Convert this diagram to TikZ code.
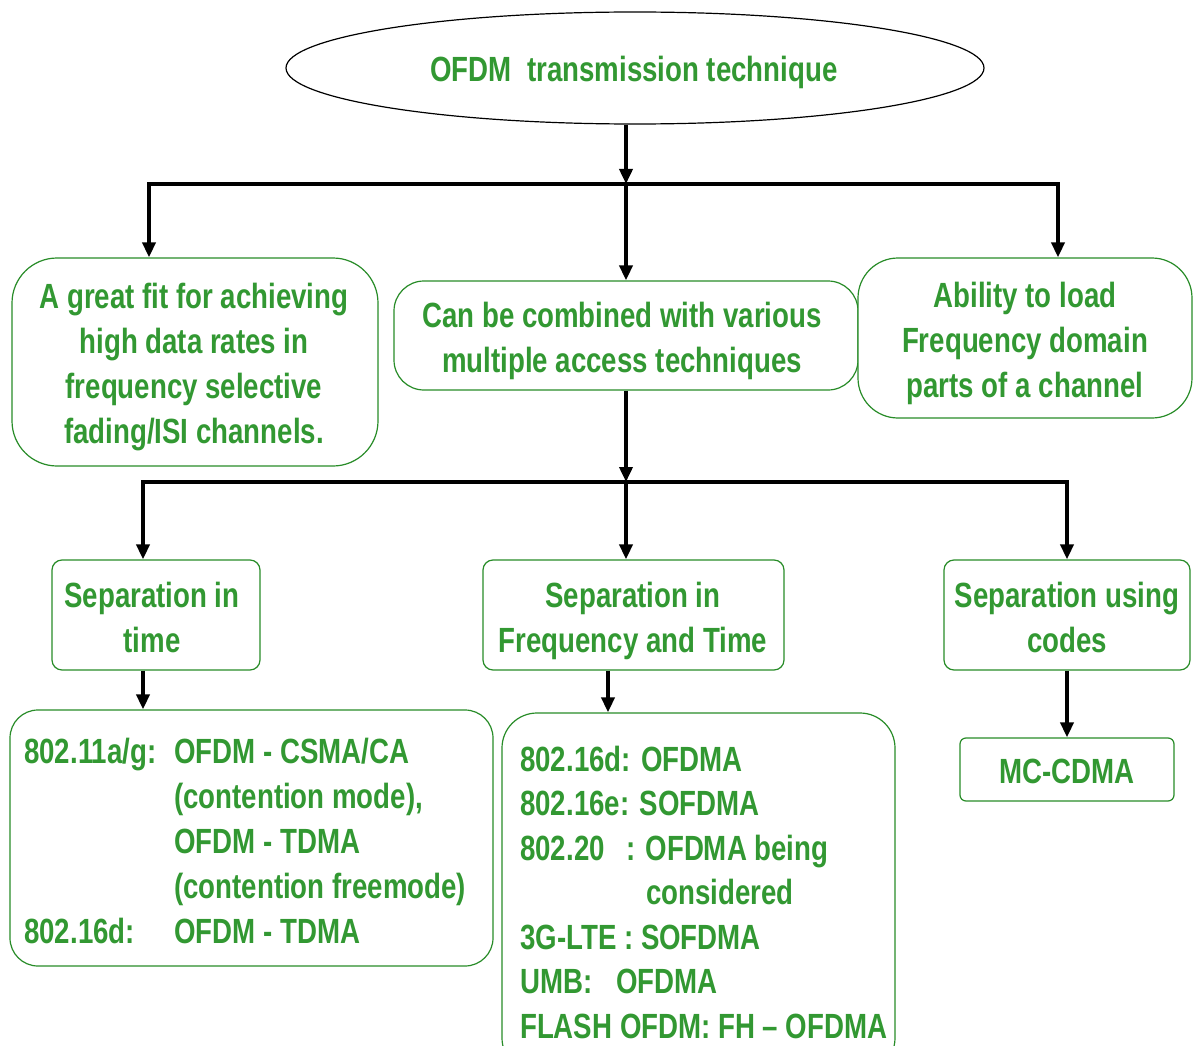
\documentclass[tikz,border=0pt]{standalone}
\usepackage{fontspec}
\usetikzlibrary{shapes.geometric,arrows.meta}
\newfontfamily\diagfont{Liberation Sans Bold}[FakeStretch=0.79]
\definecolor{leafgreen}{RGB}{50,152,50}
\definecolor{edgegreen}{RGB}{40,140,40}
\tikzset{
  txt/.style={font=\diagfont\fontsize{35}{45}\selectfont, text=leafgreen, inner sep=0pt},
  ctxt/.style={txt, anchor=base},
  box/.style={draw=edgegreen, line width=1.2pt, inner sep=0pt, fill=white},
  arr/.style={line width=3.6pt, -{Triangle[length=15pt,width=13pt]}},
  bar/.style={line width=4.4pt},
}
\newcommand{\lines}[1]{\begin{tabular}[t]{@{}c@{}}#1\end{tabular}}
\begin{document}
\begin{tikzpicture}[x=1pt,y=-1pt]
\useasboundingbox (0,0) rectangle (1200,1046);
\fill[white] (0,0) rectangle (1200,1046);

% root
\node[draw=black, line width=1.2pt, ellipse, minimum width=698pt, minimum height=112pt, inner sep=0pt]
  (root) at (635,68) {};
\node[ctxt] (roottext) at (634,82) {OFDM\ \ transmission technique};

% first level
\node[box, rounded corners=45pt, minimum width=366pt, minimum height=208pt] (fit) at (195,362) {};
\node[ctxt] (fittext) at (194,308)
  {\lines{A great fit for achieving\\high data rates in\\frequency selective\\fading/ISI channels.}};
\node[box, rounded corners=30pt, minimum width=464pt, minimum height=109pt] (comb) at (626,335.5) {};
\node[ctxt] (combtext) at (622,327)
  {\lines{Can be combined with various\\multiple access techniques}};
\node[box, rounded corners=40pt, minimum width=334pt, minimum height=160pt] (load) at (1025,338) {};
\node[ctxt] (loadtext) at (1025,307)
  {\lines{Ability to load\\Frequency domain\\parts of a channel}};

% second level
\node[box, rounded corners=10pt, minimum width=208pt, minimum height=110pt] (stime) at (156,615) {};
\node[ctxt] (stimetext) at (152,607) {\lines{Separation in\\time}};
\node[box, rounded corners=10pt, minimum width=301pt, minimum height=110pt] (sfreq) at (633.5,615) {};
\node[ctxt] (sfreqtext) at (633,607) {\lines{Separation in\\Frequency and Time}};
\node[box, rounded corners=10pt, minimum width=246pt, minimum height=110pt] (scode) at (1067,615) {};
\node[ctxt] (scodetext) at (1067,607) {\lines{Separation using\\codes}};

% third level
\node[box, rounded corners=28pt, minimum width=483pt, minimum height=256pt] (tdma) at (251.5,838) {};
\node[txt, anchor=base west] (tdmatext) at (24,763) {%
  \begin{tabular}[t]{@{}p{150pt}@{}l@{}}
  802.11a/g: & OFDM - CSMA/CA\\
             & (contention mode),\\
             & OFDM - TDMA\\
             & (contention freemode)\\
  802.16d:   & OFDM - TDMA
  \end{tabular}};

\node[box, rounded corners=35pt, minimum width=393pt, minimum height=360pt] (ofdma) at (698.5,893) {};
\node[txt, anchor=base west] (ofdmatext) at (520,771) {%
  \fontsize{35}{44.5}\selectfont
  \begin{tabular}[t]{@{}l@{}}
  802.16d: OFDMA\\
  802.16e: SOFDMA\\
  \makebox[106pt][l]{802.20}: OFDMA being\\
  \hspace*{126pt}considered\\
  3G-LTE : SOFDMA\\
  UMB:\hspace{24pt}OFDMA\\
  FLASH OFDM: FH – OFDMA
  \end{tabular}};

\node[box, rounded corners=6pt, minimum width=214pt, minimum height=63pt] (mccdma) at (1067,769.5) {};
\node[ctxt] (mccdmatext) at (1067,783) {MC-CDMA};

% connectors, top split
\coordinate (j1) at (626,184);
\coordinate (j1l) at (149,184);
\coordinate (j1r) at (1058,184);
\draw[arr] ([xshift=-9pt]root.south) -- (j1);
\draw[bar] ([xshift=-1.8pt]j1l) -- ([xshift=1.8pt]j1r);
\draw[arr] (j1l) -- (j1l |- fit.north);
\draw[arr] (j1) -- (j1 |- comb.north);
\draw[arr] (j1r) -- (j1r |- load.north);

% connectors, second split
\coordinate (j2) at (626,482);
\coordinate (j2l) at (143,482);
\coordinate (j2r) at (1067,482);
\draw[arr] (comb.south -| j2) -- (j2);
\draw[bar] ([xshift=-1.8pt]j2l) -- ([xshift=1.8pt]j2r);
\draw[arr] (j2l) -- (j2l |- stime.north);
\draw[arr] (j2) -- (j2 |- sfreq.north);
\draw[arr] (j2r) -- (j2r |- scode.north);

% connectors to the leaves
\draw[arr] (stime.south -| j2l) -- (j2l |- tdma.north);
\draw[arr] ([xshift=-25.5pt]sfreq.south) coordinate (s5) -- (s5 |- ofdma.north);
\draw[arr] (scode.south) -- (mccdma.north);
\end{tikzpicture}
\end{document}
